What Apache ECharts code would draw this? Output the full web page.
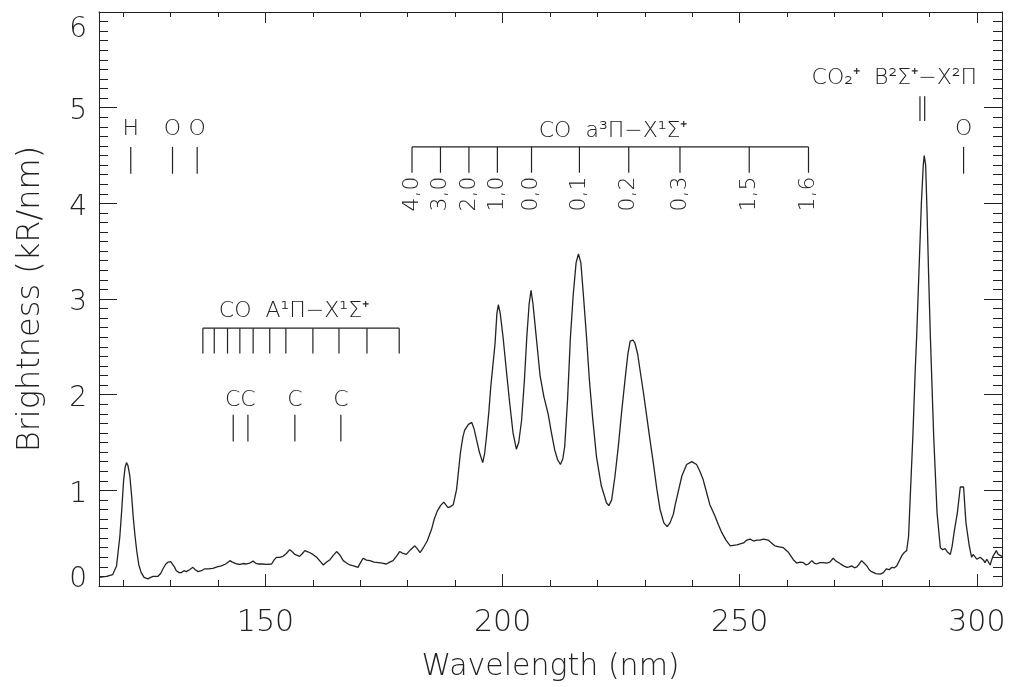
<!DOCTYPE html>
<html lang="en">
<head>
    <meta charset="UTF-8">
    <title>Brightness spectrum</title>
    <script src="https://cdn.jsdelivr.net/npm/echarts@6.0.0/dist/echarts.min.js"></script>
    <style>
        html, body { margin: 0; padding: 0; background: #fff; }
        #main { width: 1010px; height: 687px; }
    </style>
</head>
<body>
<div id="main"></div>
<script>
    // spectrum (nm, kR/nm)
    var wavelength = [
        114.9, 116.5, 117.8, 118.6, 119.3, 119.7, 120.1, 120.4, 120.7, 121.0, 121.4, 121.8, 122.1, 122.5, 122.9, 123.3,
        123.8, 124.4, 125.2, 125.8, 126.3, 127.3, 127.9, 128.4, 129.0, 129.5, 130.0, 130.4, 130.8, 131.2, 131.8, 132.3,
        132.8, 133.3, 134.0, 134.7, 135.2, 135.8, 136.5, 137.2, 138.0, 138.9, 139.8, 140.7, 141.6, 142.5, 143.0, 143.5,
        144.0, 144.6, 145.3, 146.0, 146.7, 147.4, 147.9, 148.4, 149.3, 150.2, 151.3, 151.8, 152.3, 153.0, 153.7, 154.4,
        155.1, 155.6, 156.2, 157.2, 157.8, 158.3, 158.8, 159.3, 160.0, 160.8, 161.5, 162.2, 162.9, 163.6, 164.3, 165.0,
        165.6, 166.4, 167.1, 167.8, 168.6, 169.5, 170.1, 170.6, 171.3, 172.0, 172.9, 173.8, 174.6, 175.5, 176.2, 176.9,
        177.6, 178.3, 179.0, 179.7, 180.6, 181.5, 182.0, 182.6, 183.4, 184.1, 185.0, 185.6, 186.2, 186.9, 187.6, 188.0,
        188.5, 189.0, 189.6, 190.3, 191.1, 191.6, 192.0, 192.8, 193.5, 194.0, 194.5, 195.1, 195.8, 196.2, 196.6, 197.1,
        197.5, 198.0, 198.4, 198.8, 199.1, 199.5, 200.1, 200.8, 201.5, 202.2, 202.9, 203.4, 204.0, 204.6, 205.1, 205.6,
        206.0, 206.4, 206.8, 207.2, 207.9, 208.7, 209.6, 210.3, 211.0, 211.6, 212.2, 212.7, 213.1, 213.7, 214.3, 214.9,
        215.5, 216.0, 216.5, 217.1, 217.7, 218.3, 219.0, 219.8, 220.8, 221.9, 222.4, 223.0, 223.7, 224.4, 225.1, 225.8,
        226.4, 226.9, 227.5, 227.9, 228.5, 229.0, 229.7, 230.4, 231.1, 231.8, 232.5, 233.2, 234.0, 234.7, 235.3, 236.0,
        236.4, 237.1, 237.8, 238.8, 239.9, 240.9, 241.6, 242.3, 243.0, 243.7, 244.8, 245.5, 246.2, 247.1, 248.0, 249.4,
        250.8, 251.5, 252.2, 252.9, 253.6, 254.3, 255.0, 256.0, 256.7, 257.4, 258.3, 259.2, 260.3, 261.3, 262.0, 262.7,
        263.4, 264.0, 264.5, 265.2, 265.7, 266.2, 266.9, 267.6, 268.3, 269.0, 269.7, 270.3, 270.8, 271.9, 272.6, 273.1,
        273.6, 274.2, 274.7, 275.2, 275.7, 276.2, 276.8, 277.3, 277.8, 278.7, 279.6, 280.3, 280.9, 281.5, 282.1, 282.6,
        283.1, 283.7, 284.2, 284.7, 285.2, 285.6, 285.9, 286.5, 287.0, 287.3, 287.8, 288.3, 288.7, 288.9, 289.2, 289.5,
        289.8, 290.2, 290.9, 291.6, 292.3, 292.8, 293.3, 293.9, 294.4, 294.8, 295.2, 295.9, 296.5, 296.9, 297.2, 297.7,
        298.4, 298.9, 299.2, 299.6, 300.0, 300.3, 300.7, 301.0, 301.4, 301.7, 302.1, 302.4, 302.8, 303.1, 303.4, 303.8,
        304.1, 304.5, 304.8, 305.3
    ];
    var brightness = [
        0.09, 0.10, 0.12, 0.21, 0.52, 0.80, 1.11, 1.24, 1.29, 1.26, 1.15, 0.93, 0.73, 0.52, 0.35, 0.22,
        0.14, 0.09, 0.075, 0.09, 0.10, 0.10, 0.13, 0.18, 0.23, 0.25, 0.255, 0.24, 0.20, 0.16, 0.14, 0.14,
        0.16, 0.15, 0.17, 0.195, 0.17, 0.15, 0.16, 0.18, 0.18, 0.185, 0.20, 0.21, 0.23, 0.265, 0.25, 0.24,
        0.23, 0.225, 0.235, 0.23, 0.24, 0.26, 0.24, 0.23, 0.23, 0.225, 0.23, 0.27, 0.30, 0.30, 0.31, 0.34,
        0.38, 0.36, 0.33, 0.31, 0.34, 0.37, 0.36, 0.35, 0.33, 0.30, 0.26, 0.22, 0.25, 0.275, 0.32, 0.36,
        0.33, 0.265, 0.24, 0.22, 0.21, 0.195, 0.25, 0.29, 0.27, 0.265, 0.25, 0.245, 0.24, 0.23, 0.25, 0.265,
        0.31, 0.36, 0.34, 0.33, 0.38, 0.42, 0.39, 0.35, 0.41, 0.47, 0.59, 0.70, 0.78, 0.84, 0.877, 0.85,
        0.82, 0.83, 0.85, 1.01, 1.39, 1.55, 1.63, 1.69, 1.71, 1.64, 1.53, 1.40, 1.29, 1.38, 1.56, 1.82,
        2.08, 2.33, 2.53, 2.85, 2.94, 2.85, 2.60, 2.25, 1.91, 1.60, 1.43, 1.50, 1.73, 2.15, 2.60, 2.95,
        3.09, 2.95, 2.75, 2.55, 2.20, 1.98, 1.80, 1.60, 1.42, 1.32, 1.27, 1.33, 1.46, 1.95, 2.60, 3.05,
        3.38, 3.47, 3.38, 3.00, 2.60, 2.15, 1.75, 1.35, 1.05, 0.87, 0.84, 0.90, 1.15, 1.46, 1.82, 2.15,
        2.42, 2.56, 2.57, 2.54, 2.42, 2.25, 2.02, 1.77, 1.52, 1.28, 1.02, 0.80, 0.66, 0.62, 0.66, 0.75,
        0.85, 1.00, 1.15, 1.27, 1.30, 1.27, 1.20, 1.11, 0.98, 0.85, 0.73, 0.64, 0.56, 0.48, 0.42, 0.43,
        0.45, 0.48, 0.49, 0.47, 0.48, 0.48, 0.49, 0.48, 0.45, 0.42, 0.41, 0.40, 0.35, 0.275, 0.24, 0.25,
        0.245, 0.22, 0.23, 0.265, 0.24, 0.23, 0.245, 0.245, 0.24, 0.25, 0.29, 0.26, 0.245, 0.21, 0.195, 0.20,
        0.21, 0.19, 0.20, 0.23, 0.265, 0.24, 0.21, 0.17, 0.15, 0.13, 0.125, 0.14, 0.18, 0.17, 0.195, 0.19,
        0.21, 0.27, 0.32, 0.35, 0.37, 0.52, 0.87, 1.56, 2.25, 2.60, 3.30, 4.00, 4.40, 4.50, 4.40, 3.90,
        3.30, 2.60, 1.56, 0.77, 0.40, 0.38, 0.39, 0.35, 0.33, 0.42, 0.56, 0.77, 1.035, 1.04, 1.035, 0.66,
        0.42, 0.30, 0.33, 0.31, 0.28, 0.265, 0.30, 0.31, 0.27, 0.245, 0.28, 0.30, 0.22, 0.27, 0.31, 0.30,
        0.37, 0.33, 0.31, 0.31
    ];

    // line identifications (nm)
    var atomWl = [121.6, 130.4, 135.6, 297.2];
    var atomLbl = ['H', 'O', 'O', 'O'];
    var carbonWl = [143.2, 146.3, 156.2, 165.9];
    var carbonLblWl = [144.7, 156.2, 165.9];
    var carbonLbl = ['CC', 'C', 'C'];
    var cameronWl = [180.9, 186.9, 192.9, 198.9, 206.1, 216.2, 226.6, 237.4, 252.0, 264.5];
    var cameronLbl = ['4,0', '3,0', '2,0', '1,0', '0,0', '0,1', '0,2', '0,3', '1,5', '1,6'];
    var fourthPosWl = [136.8, 139.2, 142.0, 144.6, 147.4, 150.9, 154.3, 160.0, 165.5, 171.4, 178.2];
    var co2pWl = [288.0, 289.0];

    var xMajor = [150, 200, 250, 300];
    var xMinor = [120, 130, 140, 160, 170, 180, 190, 210, 220, 230, 240, 260, 270, 280, 290];

    var INK = '#222';
    var FONT = '"DejaVu Sans", sans-serif';
    var WEIGHT = 200;

    // short vertical / horizontal strokes of the identifications, in data units
    var segs = [];
    atomWl.forEach(function (w) { segs.push([w, 4.31, w, 4.59]); });
    segs.push([cameronWl[0], 4.59, cameronWl[cameronWl.length - 1], 4.59]);
    cameronWl.forEach(function (w) { segs.push([w, 4.32, w, 4.59]); });
    segs.push([fourthPosWl[0], 2.695, fourthPosWl[fourthPosWl.length - 1], 2.695]);
    fourthPosWl.forEach(function (w) { segs.push([w, 2.43, w, 2.695]); });
    carbonWl.forEach(function (w) { segs.push([w, 1.51, w, 1.79]); });
    co2pWl.forEach(function (w) { segs.push([w, 4.86, w, 5.12]); });

    var texts = [];
    atomWl.forEach(function (w, i) { texts.push({x: w, y: 4.77, text: atomLbl[i]}); });
    carbonLblWl.forEach(function (w, i) { texts.push({x: w, y: 1.94, text: carbonLbl[i]}); });
    cameronWl.forEach(function (w, i) { texts.push({x: w, y: 4.28, text: cameronLbl[i], rot: true}); });
    texts.push({x: 223.3, y: 4.75, text: 'CO  a\u00b3\u03a0\u2212X\u00b9\u03a3\u207a'});
    texts.push({x: 156.0, y: 2.87, text: 'CO  A\u00b9\u03a0\u2212X\u00b9\u03a3\u207a'});
    texts.push({x: 282.6, y: 5.31, text: 'CO\u2082\u207a  B\u00b2\u03a3\u207a\u2212X\u00b2\u03a0'});

    var chart = echarts.init(document.getElementById('main'));

    var X_MIN = 114.9, X_MAX = 305.3;

    function xAx(pos, values, len, withLabel, line) {
        return {
            type: 'value', position: pos, min: X_MIN, max: X_MAX,
            axisLine: {show: line, onZero: false, lineStyle: {color: INK, width: 1}},
            axisTick: {show: true, inside: true, length: len, customValues: values, lineStyle: {color: INK, width: 1}},
            axisLabel: withLabel ? {show: true, customValues: values, color: INK, fontFamily: FONT, fontWeight: WEIGHT, fontSize: 30, margin: 22} : {show: false},
            splitLine: {show: false}
        };
    }
    // IDL keeps the end labels inside the axis span, the others sit a little low
    function yLabel(v) {
        if (v === 6) return '{top|' + v + '}';
        if (v === 0) return '{bot|' + v + '}';
        return '{mid|' + v + '}';
    }
    function yAx(pos, withLabel) {
        var lbl = {color: INK, fontFamily: FONT, fontWeight: WEIGHT, fontSize: 28};
        return {
            type: 'value', position: pos, min: 0, max: 6, interval: 1,
            axisLine: {show: true, onZero: false, lineStyle: {color: INK, width: 1}},
            axisTick: {show: true, inside: true, length: 18, lineStyle: {color: INK, width: 1}},
            minorTick: {show: true, splitNumber: 10, length: 9, lineStyle: {color: INK, width: 1}},
            axisLabel: withLabel ? {
                show: true, margin: 12, formatter: yLabel,
                rich: {
                    top: Object.assign({padding: [36, 0, 0, 0]}, lbl),
                    bot: Object.assign({padding: [0, 0, 12, 0]}, lbl),
                    mid: Object.assign({padding: [8, 0, 0, 0]}, lbl)
                }
            } : {show: false},
            splitLine: {show: false}
        };
    }

    var xAxes = [
        xAx('bottom', xMajor, 12, true, true),
        xAx('bottom', xMinor, 6, false, false),
        xAx('top', xMajor, 11, false, true),
        xAx('top', xMinor, 5, false, false)
    ];
    xAxes[0].name = 'Wavelength (nm)';
    xAxes[0].nameLocation = 'middle';
    xAxes[0].nameGap = 66;
    xAxes[0].nameTextStyle = {color: INK, fontFamily: FONT, fontWeight: WEIGHT, fontSize: 30};

    var yAxes = [yAx('left', true), yAx('right', false)];
    yAxes[0].name = 'Brightness (kR/nm)';
    yAxes[0].nameLocation = 'middle';
    yAxes[0].nameGap = 52;
    yAxes[0].nameTextStyle = {color: INK, fontFamily: FONT, fontWeight: WEIGHT, fontSize: 32};

    var option = {
        animation: false,
        backgroundColor: '#fff',
        grid: {left: 99, right: 8, top: 12, bottom: 96, containLabel: false},
        xAxis: xAxes,
        yAxis: yAxes,
        series: [
            {
                type: 'line',
                xAxisIndex: 0, yAxisIndex: 0,
                data: wavelength.map(function (w, i) { return [w, brightness[i]]; }),
                showSymbol: false,
                lineStyle: {color: INK, width: 1.3},
                silent: true
            },
            {
                type: 'custom',
                xAxisIndex: 0, yAxisIndex: 0,
                silent: true,
                data: segs,
                encode: {x: [0, 2], y: [1, 3]},
                renderItem: function (params, api) {
                    var p1 = api.coord([api.value(0), api.value(1)]);
                    var p2 = api.coord([api.value(2), api.value(3)]);
                    return {
                        type: 'line',
                        shape: {x1: p1[0], y1: p1[1], x2: p2[0], y2: p2[1]},
                        style: {stroke: INK, lineWidth: 1.2}
                    };
                }
            },
            {
                type: 'custom',
                xAxisIndex: 0, yAxisIndex: 0,
                silent: true,
                data: texts.map(function (t) { return [t.x, t.y]; }),
                renderItem: function (params, api) {
                    var t = texts[params.dataIndex];
                    var p = api.coord([t.x, t.y]);
                    return {
                        type: 'text',
                        x: p[0], y: p[1],
                        rotation: t.rot ? Math.PI / 2 : 0,
                        style: {
                            text: t.text,
                            fill: INK,
                            fontFamily: FONT,
                            fontWeight: WEIGHT,
                            fontSize: 22,
                            align: t.rot ? 'right' : 'center',
                            verticalAlign: 'middle'
                        }
                    };
                }
            }
        ]
    };
    chart.setOption(option);
</script>
</body>
</html>
